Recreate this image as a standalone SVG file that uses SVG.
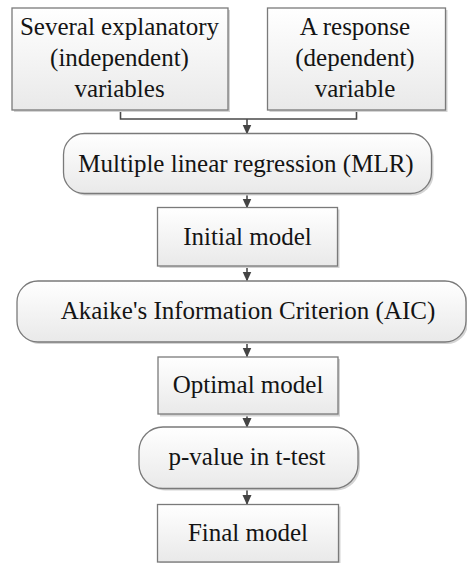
<svg xmlns="http://www.w3.org/2000/svg" width="467" height="563" viewBox="0 0 467 563">
<style>
.box{fill:url(#g);stroke:#7a7a7a;stroke-width:1.3}
.sh{fill:#d4d4d4}
.t{font-family:"Liberation Serif","Times New Roman","DejaVu Serif",serif;font-size:25px;fill:#141414;text-anchor:middle}
.c{fill:none;stroke:#4a4a4a;stroke-width:1.6}
</style>
<defs>
<linearGradient id="g" x1="0" y1="0" x2="0" y2="1">
<stop offset="0" stop-color="#ffffff"/>
<stop offset="1" stop-color="#e9e9e9"/>
</linearGradient>
<marker id="a" markerWidth="10" markerHeight="10" refX="9" refY="5" orient="auto" markerUnits="userSpaceOnUse">
<path d="M0,0.5 L10,5 L0,9.5 z" fill="#444"/>
</marker>
</defs>
<g id="connectors">
<path class="c" d="M120.5,110 V119 H356.5 V110"/>
<line class="c" x1="247" y1="119" x2="247" y2="133.5" marker-end="url(#a)"/>
<line class="c" x1="247" y1="194" x2="247" y2="207.5" marker-end="url(#a)"/>
<line class="c" x1="247" y1="266" x2="247" y2="280.5" marker-end="url(#a)"/>
<line class="c" x1="247" y1="342" x2="247" y2="356.5" marker-end="url(#a)"/>
<line class="c" x1="247" y1="414" x2="247" y2="427" marker-end="url(#a)"/>
<line class="c" x1="247" y1="488.5" x2="247" y2="504" marker-end="url(#a)"/>
</g>
<g id="n1">
<rect class="sh" x="14" y="10" width="216" height="102"/>
<rect class="box" x="12" y="8" width="216" height="102"/>
<text class="t" x="119.5" y="35">Several explanatory</text>
<text class="t" x="119.5" y="66">(independent)</text>
<text class="t" x="119.5" y="97">variables</text>
</g>
<g id="n2">
<rect class="sh" x="269.5" y="10" width="178" height="102"/>
<rect class="box" x="267.5" y="8" width="178" height="102"/>
<text class="t" x="355" y="35">A response</text>
<text class="t" x="355" y="66">(dependent)</text>
<text class="t" x="355" y="97">variable</text>
</g>
<g id="n3">
<rect class="sh" x="65.5" y="135.5" width="368" height="60" rx="21"/>
<rect class="box" x="63.5" y="133.5" width="368" height="60" rx="21"/>
<text class="t" x="246" y="172">Multiple linear regression (MLR)</text>
</g>
<g id="n4">
<rect class="sh" x="159.5" y="209.5" width="180" height="58.5"/>
<rect class="box" x="157.5" y="207.5" width="180" height="58.5"/>
<text class="t" x="247.5" y="244.5">Initial model</text>
</g>
<g id="n5">
<rect class="sh" x="19" y="283" width="449" height="61" rx="21"/>
<rect class="box" x="17" y="281" width="449" height="61" rx="21"/>
<text class="t" x="248" y="318.5">Akaike's Information Criterion (AIC)</text>
</g>
<g id="n6">
<rect class="sh" x="160" y="359" width="180" height="57.5"/>
<rect class="box" x="158" y="357" width="180" height="57"/>
<text class="t" x="248" y="393">Optimal model</text>
</g>
<g id="n7">
<rect class="sh" x="141" y="429" width="219" height="61.5" rx="24"/>
<rect class="box" x="139" y="427" width="219" height="61.5" rx="24"/>
<text class="t" x="247" y="465">p-value in t-test</text>
</g>
<g id="n8">
<rect class="sh" x="159.5" y="506.5" width="181" height="58"/>
<rect class="box" x="157.5" y="504.5" width="181" height="57.5"/>
<text class="t" x="248" y="541">Final model</text>
</g>
</svg>
